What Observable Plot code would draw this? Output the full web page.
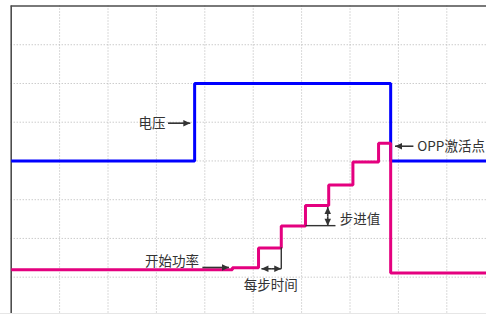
<!DOCTYPE html>
<html>
<head>
<meta charset="utf-8">
<script src="https://cdn.jsdelivr.net/npm/d3@7"></script>
<script src="https://cdn.jsdelivr.net/npm/@observablehq/plot@0.6"></script>
<style>
  html, body { margin: 0; padding: 0; background: #fff; }
  #chart { width: 486px; height: 313px; border-bottom: 1px solid #e6e6e6; overflow: hidden; }
</style>
</head>
<body>
<div id="chart"></div>
<script>
// ---- data (grid units: time along x, level along y) ----
const gridTimes = [1, 2, 3, 4, 5, 6, 7, 8, 9];
const gridLevels = [1, 2, 3, 4, 5, 6, 7];

const voltageTime  = [0, 3.79, 7.84, 9.82];
const voltageValue = [4.0, 6.0, 4.0, 4.0];

const powerTime  = [0, 4.57, 5.11, 5.58, 6.08, 6.56, 7.06, 7.59, 7.84, 9.82];
const powerValue = [1.19, 1.24, 1.75, 2.32, 2.85, 3.38, 3.97, 4.46, 1.11, 1.11];

const labelText   = ["电压", "OPP激活点", "开始功率", "每步时间", "步进值"];
const labelX      = [3.19, 8.39, 3.88, 5.36, 6.79];
const labelY      = [4.975, 4.38, 1.41, 0.77, 2.48];
const labelAnchor = ["end", "start", "end", "middle", "start"];

// arrows: from (x1,y1) to tip (x2,y2); dir = head direction
const arrowX1  = [3.24, 8.31, 3.95, 5.37, 5.37, 6.54, 6.54];
const arrowY1  = [4.975, 4.38, 1.25, 1.216, 1.216, 2.57, 2.57];
const arrowX2  = [3.70, 7.93, 4.50, 5.17, 5.58, 6.54, 6.54];
const arrowY2  = [4.975, 4.38, 1.25, 1.216, 1.216, 2.81, 2.33];
const arrowDir = ["right", "left", "right", "left", "right", "up", "down"];

// plain guide lines (no heads)
const guideX1 = [5.58, 6.08];
const guideY1 = [1.774, 2.33];
const guideX2 = [5.58, 6.70];
const guideY2 = [1.216, 2.33];

// ---- tables ----
const voltage = voltageTime.map((t, i) => ({t, v: voltageValue[i]}));
const power = powerTime.map((t, i) => ({t, v: powerValue[i]}));
const labels = labelText.map((text, i) => ({text, x: labelX[i], y: labelY[i], anchor: labelAnchor[i]}));
const arrows = arrowX1.map((x1, i) => ({x1, y1: arrowY1[i], x2: arrowX2[i], y2: arrowY2[i], dir: arrowDir[i]}));
const guides = guideX1.map((x1, i) => ({x1, y1: guideY1[i], x2: guideX2[i], y2: guideY2[i]}));

// triangle heads with the tip at the origin
function head(dir) {
  const L = 7, W = 6.5;
  return {
    draw(ctx) {
      if (dir === "right") { ctx.moveTo(0, 0); ctx.lineTo(-L, -W / 2); ctx.lineTo(-L, W / 2); }
      if (dir === "left")  { ctx.moveTo(0, 0); ctx.lineTo(L, -W / 2);  ctx.lineTo(L, W / 2); }
      if (dir === "up")    { ctx.moveTo(0, 0); ctx.lineTo(-W / 2, L);  ctx.lineTo(W / 2, L); }
      if (dir === "down")  { ctx.moveTo(0, 0); ctx.lineTo(-W / 2, -L); ctx.lineTo(W / 2, -L); }
      ctx.closePath();
    }
  };
}

const ink = "#333";
const font = "'Noto Sans CJK SC', 'Noto Sans', sans-serif";

const chart = Plot.plot({
  width: 486,
  height: 313,
  marginTop: 5.5,
  marginLeft: 10.7,
  marginRight: 0,
  marginBottom: 0,
  x: {domain: [0, 9.82], range: [10.7, 486], axis: null},
  y: {domain: [0, 8], range: [315.4, 5.5], axis: null},
  style: {fontFamily: font, background: "#fff", overflow: "hidden"},
  marks: [
    Plot.ruleX(gridTimes, {stroke: "#b4b4b4", strokeWidth: 1, strokeDasharray: "1,2"}),
    Plot.ruleY(gridLevels, {stroke: "#b4b4b4", strokeWidth: 1, strokeDasharray: "1,2"}),
    Plot.ruleX([0], {stroke: "#4d4d4d", strokeWidth: 1.6}),
    Plot.ruleY([8], {stroke: "#4d4d4d", strokeWidth: 1.6}),
    Plot.line(voltage, {x: "t", y: "v", curve: "step-after", stroke: "#0000ff", strokeWidth: 3, strokeLinejoin: "miter", strokeLinecap: "butt"}),
    Plot.line(power, {x: "t", y: "v", curve: "step-after", stroke: "#e4007f", strokeWidth: 3, strokeLinejoin: "miter", strokeLinecap: "butt"}),
    Plot.link(guides, {x1: "x1", y1: "y1", x2: "x2", y2: "y2", stroke: ink, strokeWidth: 1.4}),
    Plot.link(arrows, {x1: "x1", y1: "y1", x2: "x2", y2: "y2", stroke: ink, strokeWidth: 1.6}),
    ...["right", "left", "up", "down"].map(dir =>
      Plot.dot(arrows, {filter: d => d.dir === dir, x: "x2", y: "y2", symbol: head(dir), fill: ink, stroke: "none", r: 3})
    ),
    ...["start", "middle", "end"].map(anchor =>
      Plot.text(labels, {filter: d => d.anchor === anchor, x: "x", y: "y", text: "text", textAnchor: anchor, fontSize: 13.5, fill: ink, fontFamily: font})
    )
  ]
});
document.getElementById("chart").appendChild(chart);
</script>
</body>
</html>
